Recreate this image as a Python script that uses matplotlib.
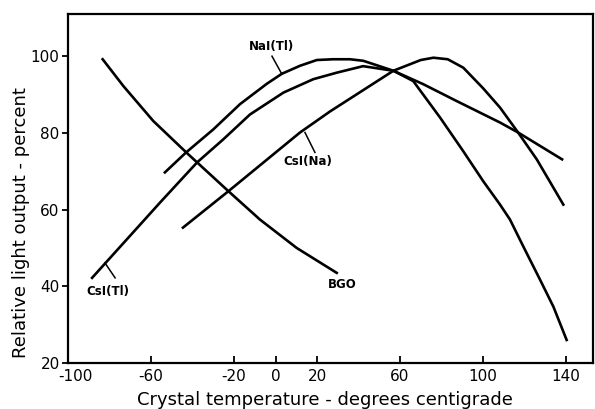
import matplotlib.pyplot as plt
from matplotlib.transforms import ScaledTranslation

# values (temperature in deg C, light output in %)
nai_t = [-53.3, -43.1, -30.0, -17.1, -4.2, 3.0, 11.8, 19.9, 27.7, 35.9, 42.3, 56.8, 66.4, 79.3,
         90.5, 100.1, 108.2, 113.0, 119.4, 127.5, 133.9, 140.3]
nai_y = [69.7, 74.9, 80.9, 87.5, 92.8, 95.4, 97.5, 99.0, 99.2, 99.2, 98.8, 96.2, 93.5, 84.0,
         75.2, 67.4, 61.3, 57.4, 50.4, 41.7, 34.7, 26.0]

csitl_t = [-88.4, -55.7, -37.8, -25.2, -12.3, 3.8, 18.2, 29.5, 42.2, 56.8, 71.2, 87.3, 108.2, 116.9, 138.1]
csitl_y = [42.2, 61.8, 72.3, 78.3, 84.8, 90.5, 94.0, 95.7, 97.4, 96.2, 92.7, 88.3, 82.7, 80.1, 73.1]

csina_t = [-44.6, -22.9, 11.8, 26.3, 56.8, 70.0, 76.1, 83.0, 90.5, 100.1, 108.2, 116.9, 125.9, 138.7]
csina_y = [55.3, 64.7, 80.1, 85.6, 96.2, 99.0, 99.6, 99.2, 97.0, 91.6, 86.6, 80.1, 73.1, 61.3]

bgo_t = [-83.3, -73.3, -58.9, -42.8, -22.7, -7.5, 10.2, 29.5]
bgo_y = [99.2, 92.2, 83.1, 74.8, 64.8, 57.4, 50.0, 43.5]

x_ticks = [-100, -60, -20, 0, 20, 60, 100, 140]
x_labels = ["-100", "-60", "-20", "0", "20", "60", "100", "140"]
y_ticks = [20, 40, 60, 80, 100]

fig = plt.figure(figsize=(5.95, 4.09), dpi=100)
ax = fig.add_axes([68 / 595, 1 - 363 / 409, 525 / 595, 349 / 409])

for t, y in [(nai_t, nai_y), (csitl_t, csitl_y), (csina_t, csina_y), (bgo_t, bgo_y)]:
    ax.plot(t, y, color="black", linewidth=1.9, solid_joinstyle="round")

# curve labels with short leader lines
lab = dict(fontsize=8.5, fontweight="bold", ha="center", va="center")
ax.text(-1.7, 102.6, "NaI(Tl)", **lab)
ax.plot([-1.7, 3.1], [100.0, 95.3], color="black", linewidth=1.1)
ax.text(15.7, 72.5, "CsI(Na)", **lab)
ax.plot([14.2, 19.0], [80.1, 74.9], color="black", linewidth=1.1)
ax.text(-80.7, 38.6, "CsI(Tl)", **lab)
ax.plot([-82.2, -77.3], [46.1, 42.2], color="black", linewidth=1.1)
ax.text(32.0, 40.4, "BGO", **lab)

ax.set_xlim(-100, 153)
ax.set_ylim(20, 111)
ax.set_xticks(x_ticks)
ax.set_xticklabels(x_labels)
ax.set_yticks(y_ticks)
ax.tick_params(axis="x", direction="in", length=5, width=1.3, labelsize=11, pad=4)
ax.tick_params(axis="y", direction="out", length=4, width=1.3, labelsize=11, pad=2)
for s in ax.spines.values():
    s.set_linewidth(1.6)

# the -100 label sits a little right of its tick in the original
first = ax.get_xticklabels()[0]
first.set_transform(first.get_transform() + ScaledTranslation(7 / 100, 0, fig.dpi_scale_trans))

fig.text(325 / 595, 1 - 400 / 409, "Crystal temperature - degrees centigrade",
         ha="center", va="center", fontsize=13)
fig.text(21 / 595, 1 - 223 / 409, "Relative light output - percent",
         ha="center", va="center", rotation=90, fontsize=13)

fig.savefig("out.png", dpi=100)
